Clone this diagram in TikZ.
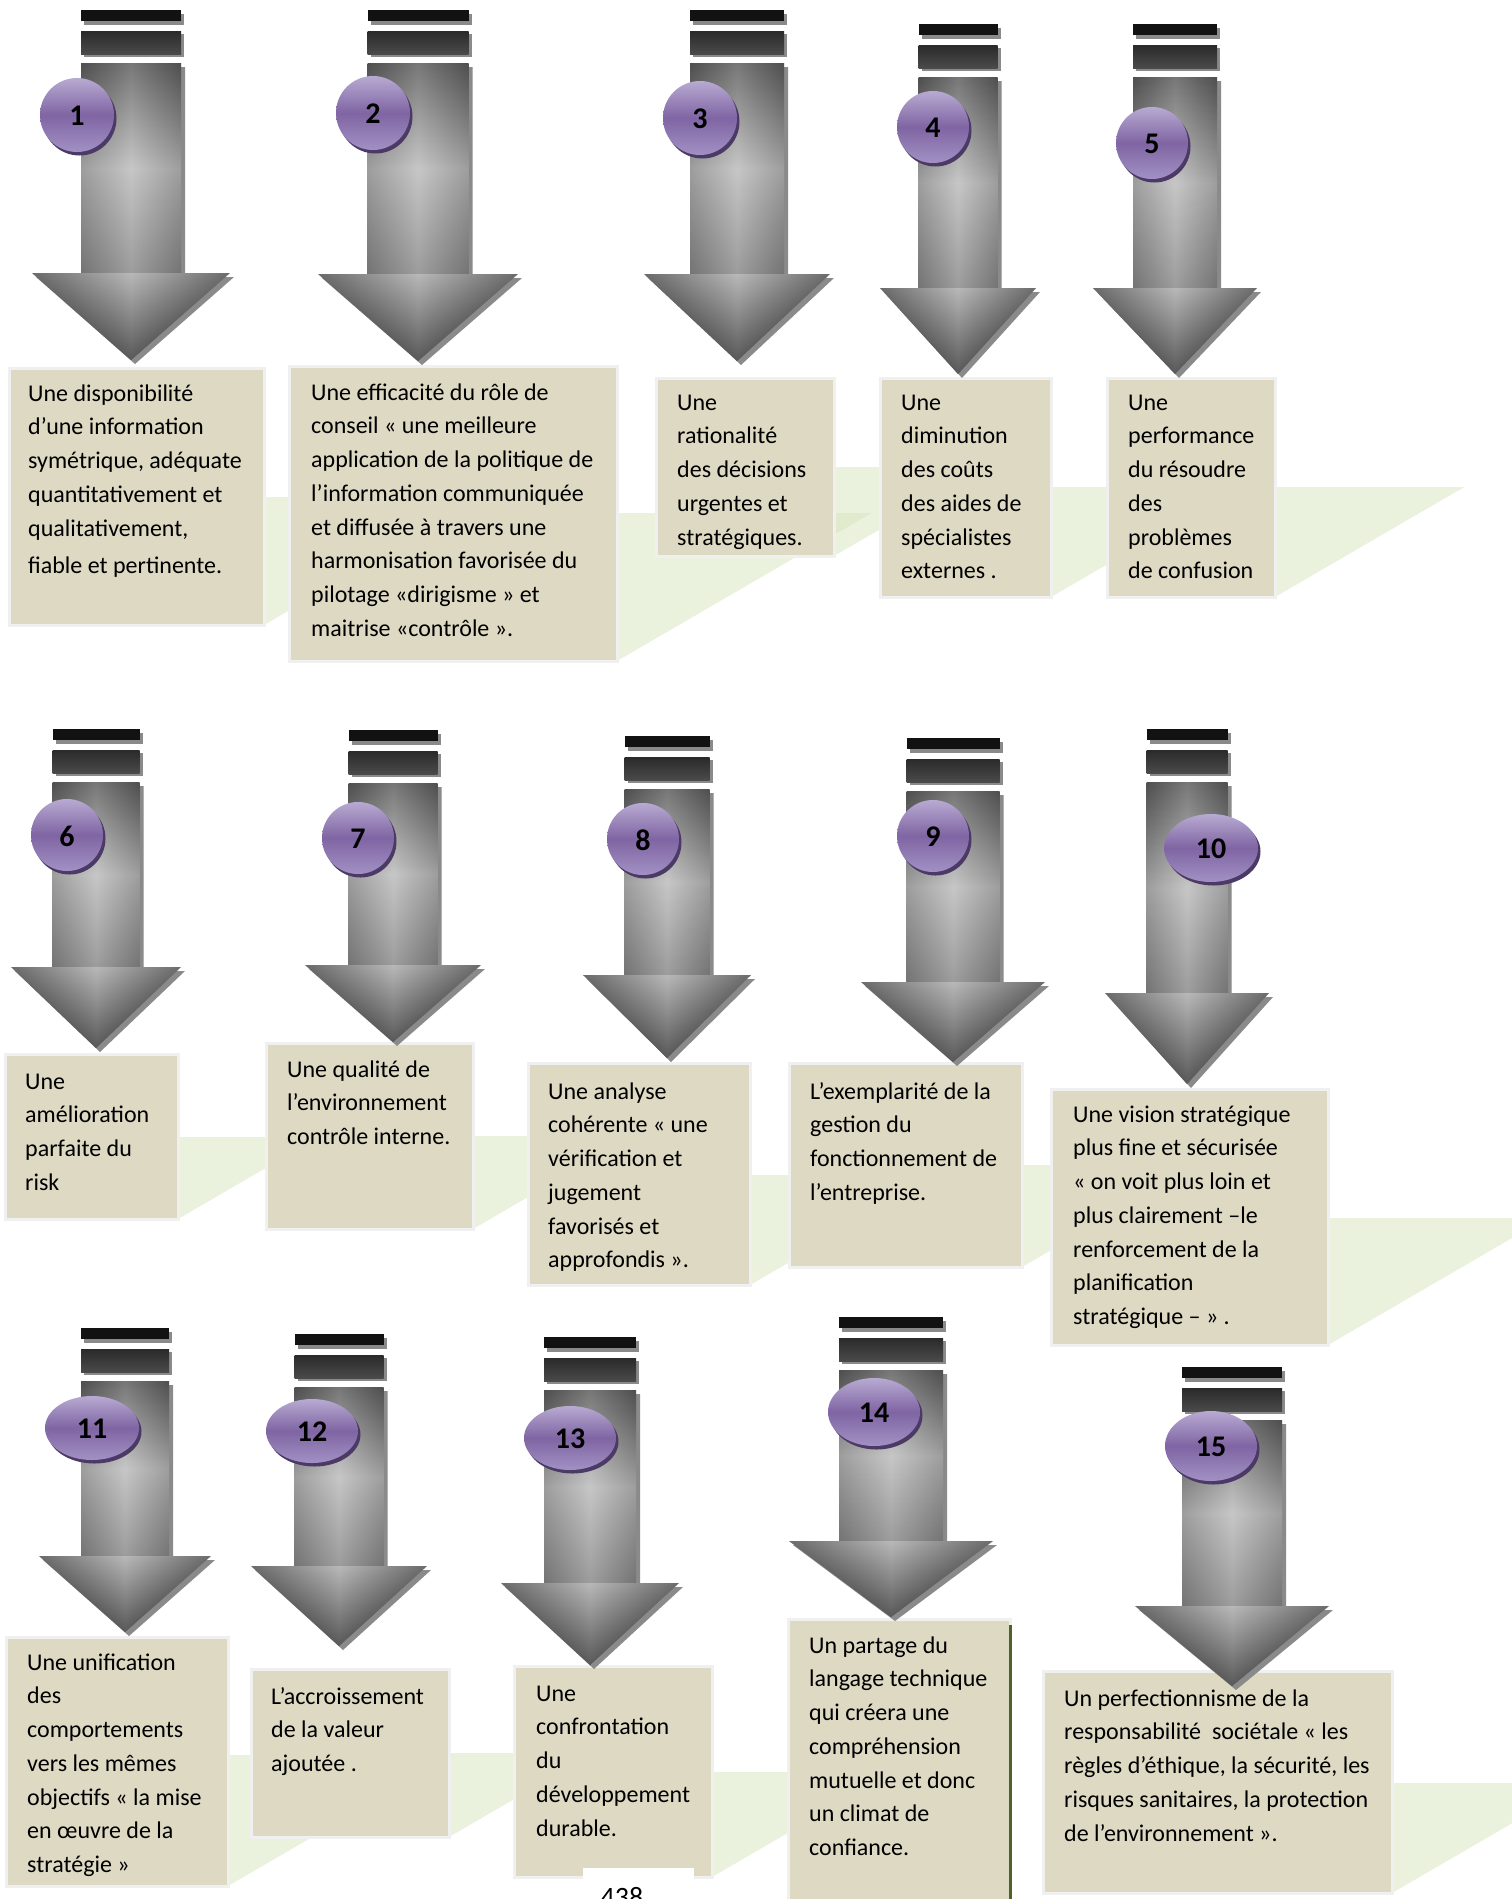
\documentclass[tikz,border=0pt]{standalone}
\usepackage{fontspec}
\setmainfont{Carlito}
\definecolor{boxfill}{HTML}{DDD9C3}
\definecolor{boxedge}{HTML}{F0F0F0}
\definecolor{bandgreen}{HTML}{D7E4BD}
\definecolor{olivedge}{HTML}{4F6228}
\definecolor{shadowgray}{HTML}{8A8A8A}
\definecolor{barblack}{HTML}{121212}
\definecolor{bartop}{HTML}{2A2A2A}
\definecolor{barbot}{HTML}{4A4A4A}
\definecolor{shafttop}{HTML}{5E5E5E}
\definecolor{shaftmid}{HTML}{BCBCBC}
\definecolor{shaftbot}{HTML}{8A8A8A}
\definecolor{headtop}{HTML}{9A9A9A}
\definecolor{headbot}{HTML}{121212}
\definecolor{ballhi}{HTML}{B8AAD2}
\definecolor{ballmid}{HTML}{7F65A3}
\definecolor{balllo}{HTML}{A291C4}
\definecolor{ballrim}{HTML}{4B3A66}
\tikzset{
  txt/.style={inner sep=0pt, align=left, font=\fontsize{24}{33.7}\selectfont, text=black},
  boxshape/.style={fill=boxfill, draw=boxedge, line width=3pt},
  band/.style={fill=bandgreen, fill opacity=0.5},
  numlabel/.style={font=\fontsize{30}{30}\selectfont\bfseries, inner sep=0pt, text=black},
}
% green step behind a box: left, right, bottom, top of band
\newcommand\greenstep[4]{%
  \pgfmathsetmacro\gx{#2+(#3-#4)*1.72}%
  \fill[band] (#1,#4) -- (\gx,#4) -- (#2,#3) -- (#1,#3) -- cycle;}
% box: left, top, right, bottom
\newcommand\tbox[4]{\draw[boxshape] (#1,#2) rectangle (#3,#4);}
% text: name, x, first baseline, text
\newcommand\btext[4]{\node[txt, anchor=north west] (#1) at (#2,#3-23.6) {\strut #4};}
% arrow: cx, shaft width, top of bars, head y, head half width, tip y
\newcommand\myarrow[6]{%
  \pgfmathsetmacro\xl{#1-#2/2}%
  \pgfmathsetmacro\xr{#1+#2/2}%
  \pgfmathsetmacro\hl{#1-#5}%
  \pgfmathsetmacro\hr{#1+#5}%
  \pgfmathsetmacro\st{#3+53}%
  \fill[shadowgray] (\xl+3,#3+4) rectangle (\xr+3,#3+15);
  \fill[shadowgray] (\xl+3,#3+24) rectangle (\xr+3,#3+47);
  \fill[barblack] (\xl,#3) rectangle (\xr,#3+11);
  \shade[top color=bartop, bottom color=barbot] (\xl,#3+21) rectangle (\xr,#3+44);
  \fill[shadowgray] (\xl+4,\st+4) -- (\xr+4,\st+4) -- (\xr+4,#4+4) -- (\hr+4,#4+4) -- (#1+4,#6+4) -- (\hl+4,#4+4) -- (\xl+4,#4+4) -- cycle;
  \shade[top color=shafttop, bottom color=shaftbot, middle color=shaftmid] (\xl,\st) rectangle (\xr,#4+0.5);
  \shade[left color=black, right color=black, middle color=white, opacity=0.16] (\xl,\st) rectangle (\xr,#4);
  \shade[top color=headtop, bottom color=headbot] (\hl,#4) -- (\hr,#4) -- (#1,#6) -- cycle;
  \shade[left color=black, right color=black, middle color=white, opacity=0.3] (\hl,#4) -- (\hr,#4) -- (#1,#6) -- cycle;
}
% numbered ball: name, cx, cy, rx, ry, label
\newcommand\ball[6]{%
  \fill[ballrim] (#2+2.5,#3+3.5) ellipse [x radius=#4, y radius=#5];
  \shade[top color=ballhi, bottom color=balllo, middle color=ballmid] (#2,#3) ellipse [x radius=#4, y radius=#5];
  \node[numlabel] (#1) at (#2,#3+1) {#6};}
\begin{document}
\begin{tikzpicture}[x=1pt,y=-1pt]
\useasboundingbox (0,0) rectangle (1512,1899);
\clip (0,0) rectangle (1512,1899);
\fill[white] (0,0) rectangle (1512,1899);
% green steps
\greenstep{9}{264}{625}{497}
\greenstep{289}{617}{661}{513}
\greenstep{656}{834}{556}{467}
\greenstep{880}{1051}{597}{487}
\greenstep{1107}{1275}{597}{487}
\greenstep{5}{178}{1219}{1137}
\greenstep{266}{473}{1229}{1136}
\greenstep{528}{750}{1285}{1175}
\greenstep{789}{1022}{1267}{1165}
\greenstep{1051}{1328}{1345}{1218}
\greenstep{6}{228}{1886}{1755}
\greenstep{251}{449}{1837}{1753}
\greenstep{514}{712}{1877}{1772}
\greenstep{1043}{1392}{1893}{1783}
% boxes
\tbox{9}{368}{264}{625}
\tbox{289}{366}{617}{661}
\tbox{656}{378}{834}{556}
\tbox{880}{378}{1051}{597}
\tbox{1107}{378}{1275}{597}
\tbox{5}{1054}{178}{1219}
\tbox{266}{1043}{473}{1229}
\tbox{528}{1063}{750}{1285}
\tbox{789}{1063}{1022}{1267}
\tbox{1051}{1089}{1328}{1345}
\tbox{6}{1637}{228}{1886}
\tbox{251}{1669}{449}{1837}
\tbox{514}{1666}{712}{1877}
\tbox{788}{1619}{1010}{1912}
\tbox{1043}{1671}{1392}{1893}
\draw[olivedge, line width=3pt] (1010,1625) -- (1010,1899);
% texts
\btext{t1}{28}{401}{Une disponibilité\\d’une information\\symétrique, adéquate\\quantitativement et\\qualitativement,\\[4pt]fiable et pertinente.}
\btext{t2}{311}{400}{Une efficacité du rôle de\\conseil « une meilleure\\application de la politique de\\l’information communiquée\\et diffusée à travers une\\harmonisation favorisée du\\pilotage «dirigisme » et\\maitrise «contrôle ».}
\btext{t3}{677}{410}{Une\\rationalité\\des décisions\\urgentes et\\stratégiques.}
\btext{t4}{901}{410}{Une\\diminution\\des coûts\\des aides de\\spécialistes\\externes .}
\btext{t5}{1128}{410}{Une\\performance\\du résoudre\\des\\problèmes\\de confusion}
\btext{t6}{25}{1089}{Une\\amélioration\\parfaite du\\risk}
\btext{t7}{287}{1077}{Une qualité de\\l’environnement\\contrôle interne.}
\btext{t8}{548}{1099}{Une analyse\\cohérente « une\\vérification et\\jugement\\favorisés et\\approfondis ».}
\btext{t9}{810}{1099}{L’exemplarité de la\\gestion du\\fonctionnement de\\l’entreprise.}
\btext{t10}{1073}{1122}{Une vision stratégique\\plus fine et sécurisée\\« on voit plus loin et\\plus clairement –le\\renforcement de la\\planification\\stratégique – » .}
\btext{t11}{27}{1670}{Une unification\\des\\comportements\\vers les mêmes\\objectifs « la mise\\en œuvre de la\\stratégie »}
\btext{t12}{271}{1704}{L’accroissement\\de la valeur\\ajoutée .}
\btext{t13}{536}{1701}{Une\\confrontation\\du\\développement\\durable.}
\btext{t14}{809}{1653}{Un partage du\\langage technique\\qui créera une\\compréhension\\mutuelle et donc\\un climat de\\confiance.}
\btext{t15}{1064}{1706}{Un perfectionnisme de la\\responsabilité\ \ sociétale « les\\règles d’éthique, la sécurité, les\\risques sanitaires, la protection\\de l’environnement ».}
% arrows
\myarrow{131}{100}{10}{273}{99}{360}
\myarrow{418}{101}{10}{274}{100}{361}
\myarrow{737}{94}{10}{274}{93}{361}
\myarrow{958}{79}{24}{288}{78}{374}
\myarrow{1175}{84}{24}{288}{82}{374}
\myarrow{96}{87}{729}{967}{85}{1048}
\myarrow{393}{89}{730}{965}{88}{1042}
\myarrow{667}{85}{736}{975}{84}{1058}
\myarrow{953}{93}{738}{982}{92}{1062}
\myarrow{1187}{81}{729}{993}{82}{1084}
\myarrow{125}{88}{1328}{1556}{86}{1632}
\myarrow{339}{89}{1334}{1566}{88}{1646}
\myarrow{590}{92}{1337}{1583}{89}{1665}
\myarrow{891}{104}{1317}{1541}{102}{1617}
\myarrow{1232}{100}{1367}{1606}{97}{1686}
% numbered balls
\ball{n1}{77}{115}{37}{37}{1}
\ball{n2}{373}{113}{37}{37}{2}
\ball{n3}{700}{118}{37}{37}{3}
\ball{n4}{933}{127}{36}{36}{4}
\ball{n5}{1152}{143}{36}{36}{5}
\ball{n6}{67}{835}{36}{36}{6}
\ball{n7}{358}{838}{36}{36}{7}
\ball{n8}{643}{839}{36}{36}{8}
\ball{n9}{933}{836}{36}{36}{9}
\ball{n10}{1211}{848}{47}{34}{10}
\ball{n11}{92}{1428}{47}{32}{11}
\ball{n12}{312}{1431}{46}{32}{12}
\ball{n13}{570}{1438}{46}{32}{13}
\ball{n14}{874}{1412}{46}{34}{14}
\ball{n15}{1211}{1446}{46}{35}{15}
% page number
\fill[white] (583,1868) rectangle (694,1899);
\node[font=\fontsize{28}{28}\selectfont, anchor=base, inner sep=0pt] (pg) at (622,1906) {438};
\end{tikzpicture}
\end{document}
